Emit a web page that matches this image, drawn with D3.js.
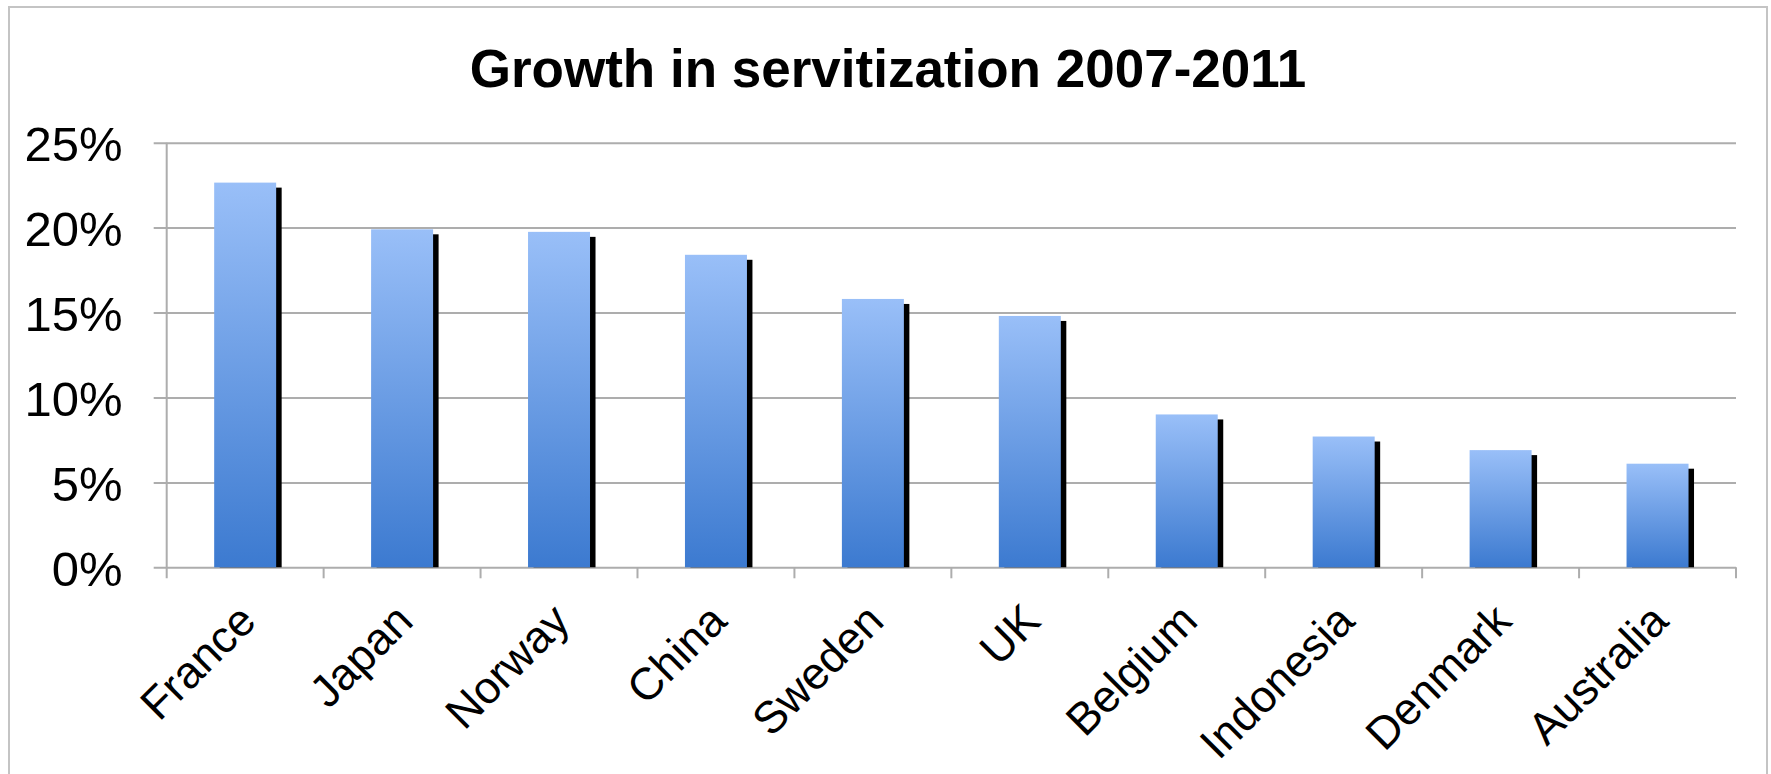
<!DOCTYPE html>
<html>
<head>
<meta charset="utf-8">
<script src="https://cdn.jsdelivr.net/npm/d3@7"></script>
<style>
  html, body { margin: 0; padding: 0; background: #fff; }
  svg { display: block; font-family: "Liberation Sans", Arial, sans-serif; }
</style>
</head>
<body>
<svg id="chart" width="1771" height="774"></svg>
<script>
// Growth in servitization by country, 2007-2011 (share, %)
const countries = ["France", "Japan", "Norway", "China", "Sweden", "UK",
                   "Belgium", "Indonesia", "Denmark", "Australia"];
const growth = [22.65, 19.9, 19.75, 18.4, 15.8, 14.8, 9.0, 7.7, 6.9, 6.1];
const yTicks = [0, 5, 10, 15, 20, 25];
const title = "Growth in servitization 2007-2011";

const W = 1771, H = 774;
const plot = { left: 166.7, right: 1736, top: 142.7, bottom: 567.3 };

const svg = d3.select("#chart");

// gradient fill for the bars
const defs = svg.append("defs");
const grad = defs.append("linearGradient")
  .attr("id", "barFill").attr("x1", 0).attr("y1", 0).attr("x2", 0).attr("y2", 1);
grad.append("stop").attr("offset", "0%").attr("stop-color", "#99bff8");
grad.append("stop").attr("offset", "100%").attr("stop-color", "#3c7ad0");

const shadowBlur = defs.append("filter").attr("id", "soft")
  .attr("x", "-20%").attr("y", "-5%").attr("width", "140%").attr("height", "110%");
shadowBlur.append("feGaussianBlur").attr("stdDeviation", 0.6);

// outer frame
svg.append("rect")
  .attr("x", 9).attr("y", 7).attr("width", 1758).attr("height", 780)
  .attr("fill", "#fff").attr("stroke", "#c4c4c4").attr("stroke-width", 2);

// title
svg.append("text")
  .attr("x", 888).attr("y", 87)
  .attr("text-anchor", "middle")
  .attr("font-size", 53).attr("font-weight", "bold").attr("fill", "#000")
  .text(title);

// scales
const x = d3.scaleBand()
  .domain(countries)
  .range([plot.left, plot.right])
  .paddingInner(0.605)
  .paddingOuter(0.3025);

const y = d3.scaleLinear()
  .domain([0, 25])
  .range([plot.bottom, plot.top]);

// horizontal gridlines + y axis labels
const yAxis = d3.axisLeft(y)
  .tickValues(yTicks)
  .tickSize(-(plot.right - plot.left))
  .tickPadding(44)
  .tickFormat(d => d + "%");

const gy = svg.append("g")
  .attr("transform", `translate(${plot.left},0)`)
  .call(yAxis);
gy.select(".domain").remove();
gy.selectAll(".tick line")
  .attr("x1", -13)
  .attr("stroke", "#adadad").attr("stroke-width", 2);
gy.selectAll(".tick text")
  .attr("font-size", 49).attr("fill", "#000")
  .attr("font-family", "Liberation Sans, Arial, sans-serif")
  .attr("dy", "0.37em");

// vertical axis line
svg.append("line")
  .attr("x1", plot.left).attr("x2", plot.left)
  .attr("y1", plot.top).attr("y2", plot.bottom + 11)
  .attr("stroke", "#adadad").attr("stroke-width", 2);

// category tick marks at the band boundaries
const boundaries = d3.range(countries.length + 1)
  .map(i => x.range()[0] + i * x.step());
svg.append("g").selectAll("line")
  .data(boundaries.slice(1))
  .join("line")
  .attr("x1", d => d).attr("x2", d => d)
  .attr("y1", plot.bottom).attr("y2", plot.bottom + 11)
  .attr("stroke", "#adadad").attr("stroke-width", 2);

// bars with a dark drop shadow to the lower right
const bars = svg.append("g").selectAll("g")
  .data(countries.map((c, i) => ({ country: c, value: growth[i] })))
  .join("g");

bars.append("rect")
  .attr("x", d => x(d.country) + 5.5)
  .attr("y", d => y(d.value) + 5)
  .attr("width", x.bandwidth())
  .attr("height", d => y(0) - y(d.value) - 5)
  .attr("fill", "#050505")
  .attr("filter", "url(#soft)");

bars.append("rect")
  .attr("x", d => x(d.country))
  .attr("y", d => y(d.value))
  .attr("width", x.bandwidth())
  .attr("height", d => y(0) - y(d.value))
  .attr("fill", "url(#barFill)");

// rotated category labels
svg.append("g").selectAll("text")
  .data(countries)
  .join("text")
  .attr("transform", d => `translate(${x(d) + x.bandwidth() / 2 + 13},${plot.bottom + 56}) rotate(-45)`)
  .attr("text-anchor", "end")
  .attr("font-size", 45).attr("fill", "#000")
  .text(d => d);
</script>
</body>
</html>
